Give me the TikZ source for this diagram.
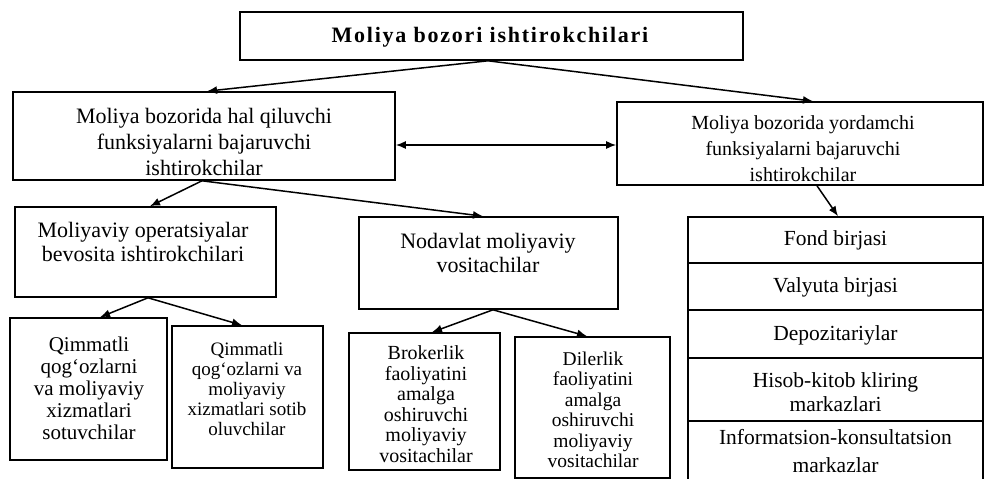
\documentclass[tikz,border=0pt]{standalone}
\usepackage{fontspec}
\setmainfont{Liberation Serif}
\newfontfamily\spacedserif[LetterSpace=8]{Liberation Serif}
\usetikzlibrary{arrows.meta}
\begin{document}
\begin{tikzpicture}[x=1pt,y=-1pt,
  box/.style={draw, line width=1.6pt, inner sep=0pt},
  txt/.style={align=center, inner sep=0pt},
  big/.style={font=\fontsize{22}{26}\selectfont},
  mid/.style={font=\fontsize{21.5}{24}\selectfont},
  arr/.style={line width=1.5pt, -{Latex[length=10pt,width=8pt]}},
  dbl/.style={line width=1.5pt, {Latex[length=10pt,width=8pt]}-{Latex[length=10pt,width=8pt]}}]
\useasboundingbox (0,0) rectangle (985,479);

% top
\node[box, minimum width=503pt, minimum height=48pt] (top) at (491.5,36) {};
\node[txt, font=\spacedserif\bfseries\fontsize{22}{26}\selectfont] (topt) at (490,37) {Moliya bozori ishtirokchilari};

% second level
\node[box, minimum width=382pt, minimum height=88pt] (L) at (204,136) {};
\node[txt, big] (Lt) at (204,142) {Moliya bozorida hal qiluvchi\\funksiyalarni bajaruvchi\\ishtirokchilar};

\node[box, minimum width=366pt, minimum height=83pt] (R) at (800,143.5) {};
\node[txt, font=\fontsize{20}{26}\selectfont] (Rt) at (803,149) {Moliya bozorida yordamchi\\funksiyalarni bajaruvchi\\ishtirokchilar};

% third level
\node[box, minimum width=261pt, minimum height=90pt] (M) at (145.5,252) {};
\node[txt, font=\fontsize{22}{24}\selectfont] (Mt) at (143,242) {Moliyaviy operatsiyalar\\bevosita ishtirokchilari};

\node[box, minimum width=259pt, minimum height=92pt] (N) at (488.5,263) {};
\node[txt, font=\fontsize{22}{24}\selectfont] (Nt) at (488,253) {Nodavlat moliyaviy\\vositachilar};

% fourth level
\node[box, minimum width=157pt, minimum height=142pt] (Q1) at (88.5,389) {};
\node[txt, font=\fontsize{21}{22}\selectfont] (Q1t) at (89,388) {Qimmatli\\qog‘ozlarni\\va moliyaviy\\xizmatlari\\sotuvchilar};

\node[box, minimum width=151pt, minimum height=142pt] (Q2) at (247.5,397) {};
\node[txt, font=\fontsize{19}{20}\selectfont] (Q2t) at (247,389) {Qimmatli\\qog‘ozlarni va\\moliyaviy\\xizmatlari sotib\\oluvchilar};

\node[box, minimum width=151pt, minimum height=137pt] (B) at (424.5,401.5) {};
\node[txt, font=\fontsize{20}{20.5}\selectfont] (Bt) at (426,404) {Brokerlik\\faoliyatini\\amalga\\oshiruvchi\\moliyaviy\\vositachilar};

\node[box, minimum width=155pt, minimum height=141pt] (D) at (592.5,407.5) {};
\node[txt, font=\fontsize{19.5}{20.5}\selectfont] (Dt) at (593,410) {Dilerlik\\faoliyatini\\amalga\\oshiruvchi\\moliyaviy\\vositachilar};

% right stack
\node[box, minimum width=295pt, minimum height=46pt] (fond) at (835.5,240) {};
\node[txt, mid] (fondt) at (835.5,240) {Fond birjasi};
\node[box, minimum width=295pt, minimum height=47pt] (valyuta) at (835.5,286.5) {};
\node[txt, mid] (valyutat) at (835.5,287) {Valyuta birjasi};
\node[box, minimum width=295pt, minimum height=48pt] (depo) at (835.5,334) {};
\node[txt, mid] (depot) at (835.5,335) {Depozitariylar};
\node[box, minimum width=295pt, minimum height=63pt] (hisob) at (835.5,389.5) {};
\node[txt, mid] (hisobt) at (835.5,392) {Hisob-kitob kliring\\markazlari};
\node[box, minimum width=295pt, minimum height=60pt] (info) at (835.5,451) {};
\node[txt, font=\fontsize{21.5}{28}\selectfont] (infot) at (835.5,451) {Informatsion-konsultatsion\\markazlar};

% connectors
\draw[arr] ([xshift=-3.5pt]top.south) -- ([xshift=3pt]L.north);
\draw[arr] ([xshift=-3.5pt]top.south) -- ([xshift=13pt]R.north);
\draw[dbl] ([yshift=-9pt]L.east) -- ([yshift=-9pt]L.east -| R.west);
\draw[arr] ([xshift=-2pt]L.south) -- ([xshift=4.5pt]M.north);
\draw[arr] ([xshift=-2pt]L.south) -- ([xshift=-5.5pt]N.north);
\draw[arr] ([xshift=17pt]R.south) -- ([xshift=2.5pt]fond.north);
\draw[arr] ([xshift=2.5pt]M.south) -- ([xshift=11.5pt]Q1.north);
\draw[arr] ([xshift=2.5pt]M.south) -- ([xshift=-5.5pt]Q2.north);
\draw[arr] ([xshift=4.5pt]N.south) -- ([xshift=7.5pt]B.north);
\draw[arr] ([xshift=4.5pt]N.south) -- ([xshift=-5.5pt]D.north);
\end{tikzpicture}
\end{document}
